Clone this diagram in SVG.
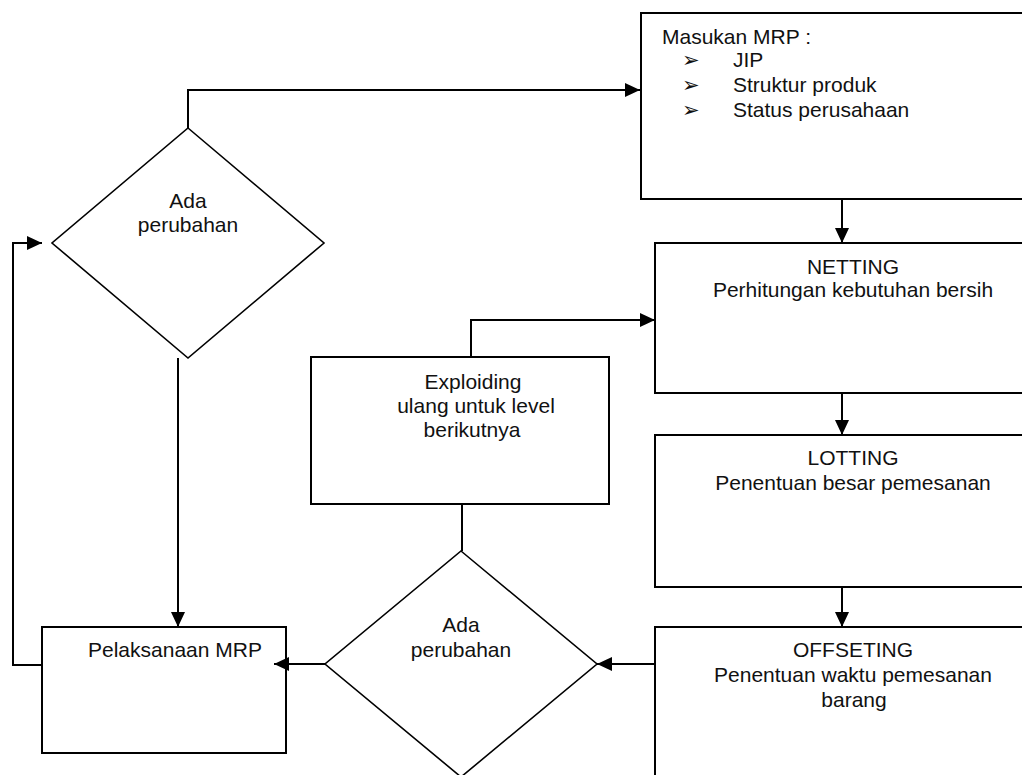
<svg xmlns="http://www.w3.org/2000/svg" width="1022" height="775" viewBox="0 0 1022 775">
<style>
.box{fill:#fff;stroke:#000;stroke-width:2}
.dia{fill:#fff;stroke:#000;stroke-width:1.6}
.con{fill:none;stroke:#000;stroke-width:2}
text{font-family:"Liberation Sans",Arial,sans-serif;font-size:21px;fill:#111}
.c{text-anchor:middle}
.bul{font-family:"DejaVu Sans",sans-serif;font-size:21px}
</style>
<defs>
<marker id="ah" markerUnits="userSpaceOnUse" markerWidth="16" markerHeight="14" refX="15" refY="7" orient="auto">
<path d="M0,0 L15,7 L0,14 z" fill="#000"/>
</marker>
</defs>
<rect width="1022" height="775" fill="#fff"/>
<g id="masukan">
<rect class="box" x="641" y="13" width="420" height="186"/>
<text x="662" y="44">Masukan MRP :</text>
<text class="bul" x="682" y="67">➢</text>
<text x="733" y="67">JIP</text>
<text class="bul" x="682" y="92">➢</text>
<text x="733" y="92">Struktur produk</text>
<text class="bul" x="682" y="117">➢</text>
<text x="733" y="117">Status perusahaan</text>
</g>
<g id="netting">
<rect class="box" x="655" y="243" width="420" height="150"/>
<text class="c" x="853" y="274">NETTING</text>
<text class="c" x="853" y="297">Perhitungan kebutuhan bersih</text>
</g>
<g id="lotting">
<rect class="box" x="655" y="435" width="420" height="152"/>
<text class="c" x="853" y="465">LOTTING</text>
<text class="c" x="853" y="490">Penentuan besar pemesanan</text>
</g>
<g id="offseting">
<rect class="box" x="655" y="627" width="420" height="200"/>
<text class="c" x="853" y="657">OFFSETING</text>
<text class="c" x="853" y="682">Penentuan waktu pemesanan</text>
<text class="c" x="854" y="707">barang</text>
</g>
<g id="exploiding">
<rect class="box" x="311" y="357" width="298" height="147"/>
<text class="c" x="473" y="389">Exploiding</text>
<text class="c" x="476" y="413">ulang untuk level</text>
<text class="c" x="472" y="437">berikutnya</text>
</g>
<g id="decision1">
<polygon class="dia" points="188,128 324,243 188,358 52,243"/>
<text class="c" x="188" y="208">Ada</text>
<text class="c" x="188" y="232">perubahan</text>
</g>
<g id="decision2">
<polygon class="dia" points="461,551 597,664 461,777 325,664"/>
<text class="c" x="461" y="632">Ada</text>
<text class="c" x="461" y="657">perubahan</text>
</g>
<g id="pelaksanaan">
<rect class="box" x="42" y="627" width="244" height="126"/>
<text x="88" y="657">Pelaksanaan MRP</text>
</g>
<g id="connectors">
<path class="con" d="M188,128 V90 H640" marker-end="url(#ah)"/>
<path class="con" d="M842,199 V243" marker-end="url(#ah)"/>
<path class="con" d="M471,357 V320 H655" marker-end="url(#ah)"/>
<path class="con" d="M842,393 V435" marker-end="url(#ah)"/>
<path class="con" d="M842,587 V627" marker-end="url(#ah)"/>
<path class="con" d="M655,664 H597" marker-end="url(#ah)"/>
<path class="con" d="M325,664 H274" marker-end="url(#ah)"/>
<path class="con" d="M178,358 V627" marker-end="url(#ah)"/>
<path class="con" d="M42,665 H13 V243 H42" marker-end="url(#ah)"/>
<path class="con" d="M462,504 V551"/>
</g>
</svg>
